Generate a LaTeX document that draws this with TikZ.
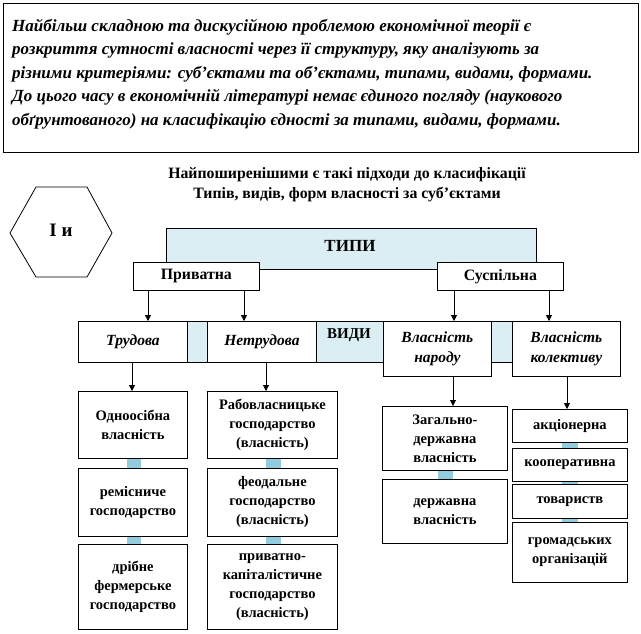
\documentclass[tikz,border=0pt]{standalone}
\usepackage{fontspec}
\setmainfont{Liberation Serif}
\usetikzlibrary{arrows.meta}
\definecolor{bandblue}{HTML}{DBEEF3}
\definecolor{linkblue}{HTML}{93CDDD}
\begin{document}
\begin{tikzpicture}[x=1pt,y=-1pt,
  bx/.style={draw, fill=white, line width=0.8pt, inner sep=0pt, anchor=north west, align=center},
  btxt/.style={font=\fontsize{14.5}{19}\selectfont\bfseries},
  itxt/.style={font=\fontsize{15.5}{20}\selectfont\bfseries\itshape},
  arr/.style={line width=0.8pt, -{Triangle[length=6pt,width=6pt]}},
  ln/.style={line width=0.8pt}]
\useasboundingbox (0,0) rectangle (641,633);
% intro box
\node[draw, line width=0.8pt, minimum width=635, minimum height=149, anchor=north west, inner sep=0pt] (topbox) at (3,3) {};
\node[anchor=west, align=left, inner sep=0pt, font=\fontsize{17}{23.5}\selectfont\bfseries\itshape] (intro) at (12,74)
{Найбільш складною та дискусійною проблемою економічної теорії є\\
розкриття сутності власності через її структуру, яку аналізують за\\
різними критеріями: суб’єктами та об’єктами, типами, видами, формами.\\
До цього часу в економічній літературі немає єдиного погляду (наукового\\
обґрунтованого) на класифікацію єдності за типами, видами, формами.};
% heading
\node[align=center, inner sep=0pt, font=\fontsize{15.8}{20}\selectfont\bfseries] (head) at (347,185)
{Найпоширенішими є такі підходи до класифікації\\Типів, видів, форм власності за суб’єктами};
% hexagon
\draw[ln] (10,233) -- (36,187) -- (87,187) -- (112,233) -- (87,277) -- (36,277) -- cycle;
\node[font=\fontsize{19}{20}\selectfont\bfseries] (hex) at (61,230) {І и};
% types
\node[bx, fill=bandblue, minimum width=370, minimum height=41] (tipy) at (166,228) {};
\node[font=\fontsize{17}{20}\selectfont\bfseries] (tipyt) at (350,246) {ТИПИ};
\node[bx, minimum width=126, minimum height=28, font=\fontsize{15.8}{18}\selectfont\bfseries] (priv) at (133,262) {Приватна};
\node[bx, minimum width=126, minimum height=28, font=\fontsize{15.8}{18}\selectfont\bfseries] (susp) at (437,262) {Суспільна};
% kinds band
\node[bx, fill=bandblue, minimum width=542, minimum height=41] (band) at (78,321) {};
\node[font=\fontsize{15}{18}\selectfont\bfseries] (vydy) at (349,335) {ВИДИ};
\node[bx, itxt, minimum width=109, minimum height=41] (trud) at (78,321) {Трудова};
\node[bx, itxt, minimum width=109, minimum height=41] (netrud) at (207,321) {Нетрудова};
\node[bx, itxt, minimum width=108, minimum height=55] (narod) at (383,321) {Власність\\народу};
\node[bx, itxt, minimum width=108, minimum height=55] (kolekt) at (512,321) {Власність\\колективу};
% arrows from types to kinds
\draw[arr] (priv.south -| 148,0) -- (trud.north -| 148,0);
\draw[arr] (priv.south -| 244,0) -- (netrud.north -| 244,0);
\draw[arr] (susp.south -| 454,0) -- (narod.north -| 454,0);
\draw[arr] (susp.south -| 549,0) -- (kolekt.north -| 549,0);
% column 1
\node[bx, btxt, minimum width=109, minimum height=67] (c1a) at (78,391) {Одноосібна\\власність};
\node[bx, btxt, minimum width=109, minimum height=68] (c1b) at (78,468) {ремісниче\\господарство};
\node[bx, btxt, minimum width=109, minimum height=85] (c1c) at (78,544) {дрібне\\фермерське\\господарство};
% column 2
\node[bx, btxt, minimum width=130, minimum height=67] (c2a) at (207,391) {Рабовласницьке\\господарство\\(власність)};
\node[bx, btxt, minimum width=130, minimum height=68] (c2b) at (207,468) {феодальне\\господарство\\(власність)};
\node[bx, btxt, minimum width=130, minimum height=85] (c2c) at (207,544) {приватно-\\капіталістичне\\господарство\\(власність)};
% column 3
\node[bx, btxt, minimum width=125, minimum height=64] (c3a) at (382,406) {Загально-\\державна\\власність};
\node[bx, btxt, minimum width=125, minimum height=64] (c3b) at (382,479) {державна\\власність};
% column 4
\node[bx, btxt, minimum width=115, minimum height=33] (c4a) at (512,409) {акціонерна};
\node[bx, btxt, minimum width=115, minimum height=33] (c4b) at (512,448) {кооперативна};
\node[bx, btxt, minimum width=115, minimum height=34] (c4c) at (512,484) {товариств};
\node[bx, btxt, minimum width=115, minimum height=60] (c4d) at (512,522) {громадських\\організацій};
% arrows from kinds to forms
\draw[arr] (trud.south -| 132,0) -- (c1a.north -| 132,0);
\draw[arr] (netrud.south -| 266,0) -- (c2a.north -| 266,0);
\draw[arr] (narod.south -| 453,0) -- (c3a.north -| 453,0);
\draw[arr] (kolekt.south -| 567,0) -- (c4a.north -| 567,0);
% blue links
\fill[linkblue] (c1a.south -| 127,0) rectangle (c1b.north -| 141,0);
\fill[linkblue] (c1b.south -| 127,0) rectangle (c1c.north -| 141,0);
\fill[linkblue] (c2a.south -| 266,0) rectangle (c2b.north -| 281,0);
\fill[linkblue] (c2b.south -| 266,0) rectangle (c2c.north -| 281,0);
\fill[linkblue] (c3a.south -| 438,0) rectangle (c3b.north -| 453,0);
\fill[linkblue] (c4a.south -| 562,0) rectangle (c4b.north -| 578,0);
\fill[linkblue] (c4b.south -| 562,0) rectangle (c4c.north -| 578,0);
\fill[linkblue] (c4c.south -| 562,0) rectangle (c4d.north -| 578,0);
\end{tikzpicture}
\end{document}
